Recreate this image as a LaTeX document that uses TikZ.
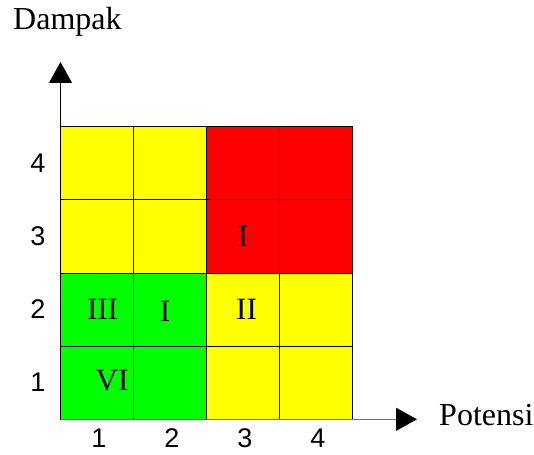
\documentclass[tikz,border=0pt]{standalone}
\usepackage{fontspec}
\setmainfont{Liberation Serif}
\newfontfamily\ticksans{Liberation Sans}
\usepackage{tikz}
\usetikzlibrary{arrows.meta}
\definecolor{rmgreen}{HTML}{00FF00}
\definecolor{rmyellow}{HTML}{FFFF00}
\definecolor{rmred}{HTML}{FF0000}
\tikzset{
  rm cell/.style={draw=black, line width=0.8pt, minimum width=73pt, minimum height=73.2pt,
                  inner sep=0pt, outer sep=0pt},
  rm num/.style={font=\fontsize{31}{31}\selectfont, inner sep=0pt},
  rm tick/.style={font=\ticksans\fontsize{27}{27}\selectfont, inner sep=0pt},
  rm title/.style={font=\fontsize{32}{32}\selectfont, inner sep=0pt, anchor=base west},
  rm arr/.style={line width=1.2pt, -{Triangle[length=21pt, width=23pt, black]}},
}
\begin{document}
\begin{tikzpicture}[x=1pt, y=-1pt]
  \useasboundingbox (0,0) rectangle (534,454);
  % the 4x4 grid: column \i (potensi), row \j (dampak)
  \foreach \i/\j/\c in {1/1/rmgreen,2/1/rmgreen,3/1/rmyellow,4/1/rmyellow,
                        1/2/rmgreen,2/2/rmgreen,3/2/rmyellow,4/2/rmyellow,
                        1/3/rmyellow,2/3/rmyellow,3/3/rmred,4/3/rmred,
                        1/4/rmyellow,2/4/rmyellow,3/4/rmred,4/4/rmred}
    \node[rm cell, fill=\c] (c\i\j) at ({60.5+73*(\i-0.5)}, {419.3-73.2*(\j-0.5)}) {};
  % axes
  \coordinate (o) at (60.5,419.3);
  \coordinate (ytip) at (60.5,62);
  \coordinate (xtip) at (417,419.3);
  \draw[rm arr] (o) -- (ytip);
  \draw[rm arr, draw=black!55] (o) -- (xtip);
  \node[rm title] (dampak) at (13,30) {Dampak};
  \node[rm title] (potensi) at (439,425) {Potensi};
  % tick labels
  \foreach \j in {1,...,4}
    \node[rm tick] (y\j) at (38, {419.3-73.2*(\j-0.5)}) {\j};
  \foreach \i in {1,...,4}
    \node[rm tick] (x\i) at ({62.5+73*(\i-0.5)}, 438.5) {\i};
  % roman numerals in the cells
  \node[rm num] (n11) at ([xshift=15pt, yshift=2.5pt]c11.center) {VI};
  \node[rm num] (n12) at ([xshift=5.5pt]c12.center) {III};
  \node[rm num] (n22) at ([xshift=-5pt, yshift=-1.5pt]c22.center) {I};
  \node[rm num] (n32) at ([xshift=3.5pt]c32.center) {II};
  \node[rm num] (n33) at (c33.center) {I};
\end{tikzpicture}
\end{document}
